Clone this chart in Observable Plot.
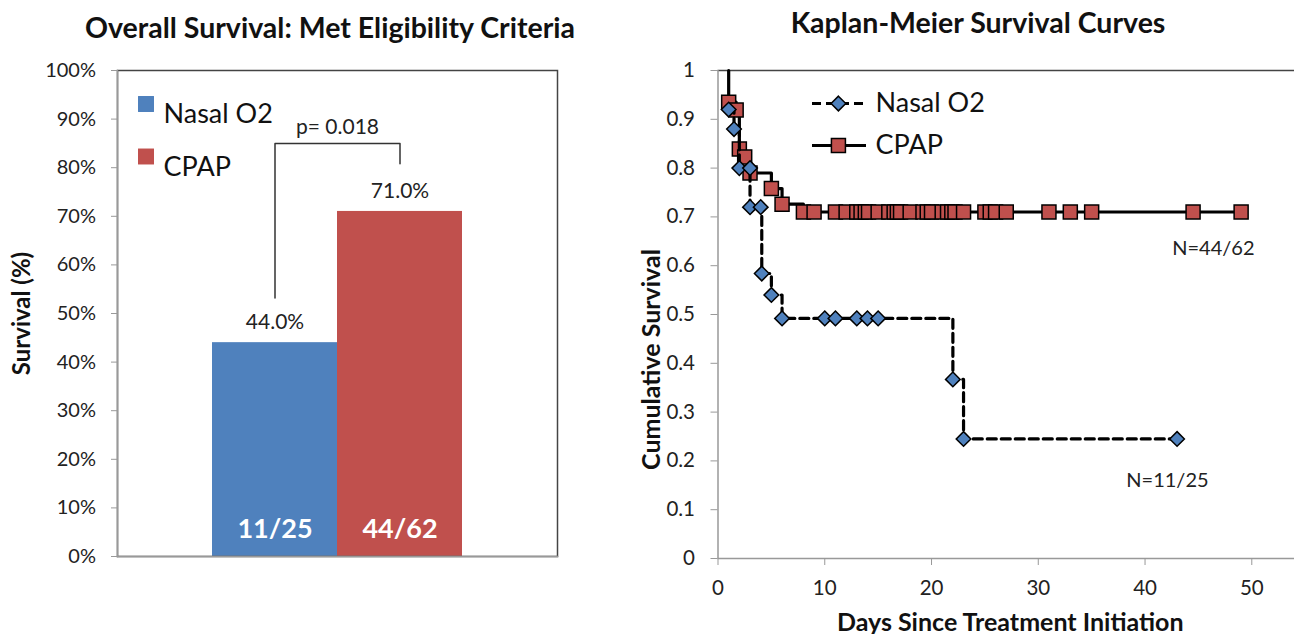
<!DOCTYPE html>
<html><head><meta charset="utf-8">
<script src="https://cdn.jsdelivr.net/npm/d3@7"></script>
<script src="https://cdn.jsdelivr.net/npm/@observablehq/plot@0.6"></script>
<style>
body{margin:0;background:#fff;font-family:Lato,"Open Sans",sans-serif;}
#wrap{position:relative;width:1295px;height:634px;overflow:hidden;background:#fff}
.title{position:absolute;font-weight:bold;font-size:28.5px;color:#111;white-space:nowrap;transform:translate(-50%,-50%)}
#wrap svg{position:absolute}
</style></head><body>
<div id="wrap">
 <div class="title" style="left:330px;top:27px">Overall Survival: Met Eligibility Criteria</div>
 <div class="title" style="left:978px;top:22px">Kaplan-Meier Survival Curves</div>
</div>
<script>
// ---- Left chart data ----
const groups = ["Nasal O2", "CPAP"];
const groupColors = ["#4F81BD", "#C0504D"];
const survivalPct = [0.44, 0.71];
const pctLabels = ["44.0%", "71.0%"];
const countLabels = ["11/25", "44/62"];
const pValueLabel = "p= 0.018";
const bracketGroups = ["Nasal O2", "Nasal O2", "CPAP", "CPAP"];
const bracketLevels = [0.532, 0.85, 0.85, 0.808];
const pctTicks = [0, 0.1, 0.2, 0.3, 0.4, 0.5, 0.6, 0.7, 0.8, 0.9, 1];

// ---- Right chart data (Kaplan-Meier) ----
const nasalDays = [1, 1.5, 2, 3, 3, 4, 4.1, 5, 6, 10, 11, 13, 14, 15, 22, 23, 43];
const nasalSurv = [0.92, 0.88, 0.80, 0.80, 0.72, 0.72, 0.584, 0.54, 0.492, 0.492, 0.492, 0.492, 0.492, 0.492, 0.367, 0.245, 0.245];
const cpapDays = [1, 1, 1.7, 2, 2.5, 3, 5, 6, 8, 9, 11, 12, 13, 13.4, 13.8, 14.1, 15, 16, 16.5, 16.8, 17.1, 18, 19.2, 19.6, 20, 21, 21.5, 21.9, 22.2, 23, 25, 25.5, 26, 27, 31, 33, 35, 44.5, 49];
const cpapSurv = [1, 0.935, 0.919, 0.839, 0.823, 0.79, 0.758, 0.726,
  0.71, 0.71, 0.71, 0.71, 0.71, 0.71, 0.71, 0.71, 0.71, 0.71,
  0.71, 0.71, 0.71, 0.71, 0.71, 0.71, 0.71, 0.71, 0.71, 0.71,
  0.71, 0.71, 0.71, 0.71, 0.71, 0.71, 0.71, 0.71, 0.71, 0.71, 0.71];
const kmTicksX = [0, 10, 20, 30, 40, 50];
const kmTicksY = [0, 0.1, 0.2, 0.3, 0.4, 0.5, 0.6, 0.7, 0.8, 0.9, 1];
const nLabelText = ["N=44/62", "N=11/25"];
const nLabelDays = [46.4, 42.1];
const nLabelSurv = [0.636, 0.16];

const wrap = document.getElementById("wrap");
const FONT = "Lato, 'Open Sans', sans-serif";

// ---- Left: bar chart ----
const bars = groups.map((g, i) => ({group: g, value: survivalPct[i], pct: pctLabels[i], n: countLabels[i]}));
const bracket = bracketGroups.map((g, i) => ({group: g, y: bracketLevels[i]}));
const legendLeft = groups.flatMap((g, i) => [
  Plot.dot([g], {frameAnchor: "top-left", dx: 28.5, dy: 33.5 + i * 52.5, symbol: "square", r: 9, fill: groupColors[i]}),
  Plot.text([g], {frameAnchor: "top-left", dx: 46, dy: 33.5 + i * 52.5, textAnchor: "start", fontSize: 27, fill: "#111"})
]);
const left = Plot.plot({
  width: 600, height: 634, marginLeft: 117, marginRight: 43, marginTop: 70, marginBottom: 78,
  style: {fontFamily: FONT, background: "transparent", overflow: "visible"},
  x: {type: "band", domain: groups, paddingInner: 0, paddingOuter: 0.756, align: 0.5, axis: null},
  y: {domain: [0, 1]},
  color: {domain: groups, range: groupColors},
  marks: [
    Plot.barY(bars, {x: "group", y: "value", fill: "group"}),
    Plot.frame({stroke: "#444", strokeWidth: 1.5}),
    Plot.frame({anchor: "left", stroke: "#999", strokeWidth: 1.5}),
    Plot.frame({anchor: "bottom", stroke: "#999", strokeWidth: 1.5}),
    Plot.axisY(pctTicks, {tickSize: 6, tickPadding: 15.5, stroke: "#999", fill: "#222", fontSize: 20,
      tickFormat: d => Math.round(d * 100) + "%", label: null}),
    Plot.text(bars, {x: "group", y: "value", text: "pct", dy: -20, fontSize: 21, fill: "#222"}),
    Plot.text(bars, {x: "group", y: 0, text: "n", dy: -27, fontSize: 27, fontWeight: "bold", fill: "white"}),
    Plot.line(bracket, {x: "group", y: "y", stroke: "#333", strokeWidth: 1.5}),
    Plot.text([pValueLabel], {y: () => bracketLevels[1], dy: -16, fontSize: 21, fill: "#222"}),
    Plot.text(["Survival (%)"], {frameAnchor: "left", textAnchor: "middle", dx: -95, rotate: -90, fontWeight: "bold", fontSize: 24, fill: "#111"}),
    ...legendLeft
  ]
});
left.style.left = "0px"; left.style.top = "0px";
wrap.appendChild(left);

// ---- Right: Kaplan-Meier ----
const nasal = nasalDays.map((d, i) => ({day: d, s: nasalSurv[i]}));
const cpap = cpapDays.map((d, i) => ({day: d, s: cpapSurv[i]}));
const nLabels = nLabelText.map((t, i) => ({t, day: nLabelDays[i], s: nLabelSurv[i]}));
const right = Plot.plot({
  width: 675, height: 634, marginLeft: 97.5, marginRight: 1, marginTop: 70, marginBottom: 76,
  style: {fontFamily: FONT, background: "transparent", overflow: "visible"},
  x: {domain: [0, 54]},
  y: {domain: [0, 1]},
  marks: [
    Plot.ruleY([1], {stroke: "#444", strokeWidth: 1.5}),
    Plot.ruleX([0], {stroke: "#999", strokeWidth: 1.5}),
    Plot.ruleY([0], {stroke: "#999", strokeWidth: 1.5}),
    Plot.axisY(kmTicksY, {tickSize: 7, tickPadding: 16, stroke: "#999", fill: "#222", fontSize: 20.5,
      tickFormat: d => String(+d.toFixed(1)), label: null}),
    Plot.axisX(kmTicksX, {tickSize: 7, tickPadding: 15, stroke: "#999", fill: "#222", fontSize: 20.5,
      tickFormat: d => String(d), label: null}),
    Plot.line(cpap, {x: "day", y: "s", curve: "step-after", stroke: "#000", strokeWidth: 3.2}),
    Plot.dot(cpap.slice(1), {x: "day", y: "s", symbol: "square", r: 7.9, fill: "#C0504D", stroke: "#000", strokeWidth: 1.5}),
    Plot.line(nasal, {x: "day", y: "s", curve: "step-after", stroke: "#000", strokeWidth: 3.2, strokeDasharray: "9,5"}),
    Plot.dot(nasal, {x: "day", y: "s", symbol: "diamond2", r: 6.6, fill: "#4F81BD", stroke: "#000", strokeWidth: 1.5}),
    Plot.text(nLabels, {x: "day", y: "s", text: "t", fontSize: 20, fill: "#222"}),
    Plot.text(["Cumulative Survival"], {frameAnchor: "left", textAnchor: "middle", dx: -66, dy: 45, rotate: -90, fontWeight: "bold", fontSize: 25, fill: "#111"}),
    Plot.text(["Days Since Treatment Initiation"], {frameAnchor: "bottom", dx: 4, dy: 72, fontWeight: "bold", fontSize: 25, fill: "#111"})
  ]
});
right.style.left = "620px"; right.style.top = "0px";
wrap.appendChild(right);

// ---- Right legend ----
const legendRight = Plot.plot({
  width: 200, height: 84, marginLeft: 7, marginRight: 139, marginTop: 0, marginBottom: 0,
  style: {fontFamily: FONT, background: "transparent", overflow: "visible"},
  x: {domain: [0, 1], axis: null},
  y: {type: "point", domain: groups, padding: 0.5, axis: null},
  marks: [
    Plot.ruleY([groups[0]], {x1: 0, x2: 1, stroke: "#000", strokeWidth: 3.2, strokeDasharray: "9,5"}),
    Plot.ruleY([groups[1]], {x1: 0, x2: 1, stroke: "#000", strokeWidth: 3.2}),
    Plot.dot([groups[0]], {x: 0.48, y: d => d, symbol: "diamond2", r: 6.6, fill: "#4F81BD", stroke: "#000", strokeWidth: 1.5}),
    Plot.dot([groups[1]], {x: 0.48, y: d => d, symbol: "square", r: 7.9, fill: "#C0504D", stroke: "#000", strokeWidth: 1.5}),
    Plot.text(groups, {x: 1, y: d => d, dx: 9, textAnchor: "start", fontSize: 27, fill: "#111"})
  ]
});
legendRight.style.left = "805px"; legendRight.style.top = "82px";
wrap.appendChild(legendRight);
</script>
</body></html>
